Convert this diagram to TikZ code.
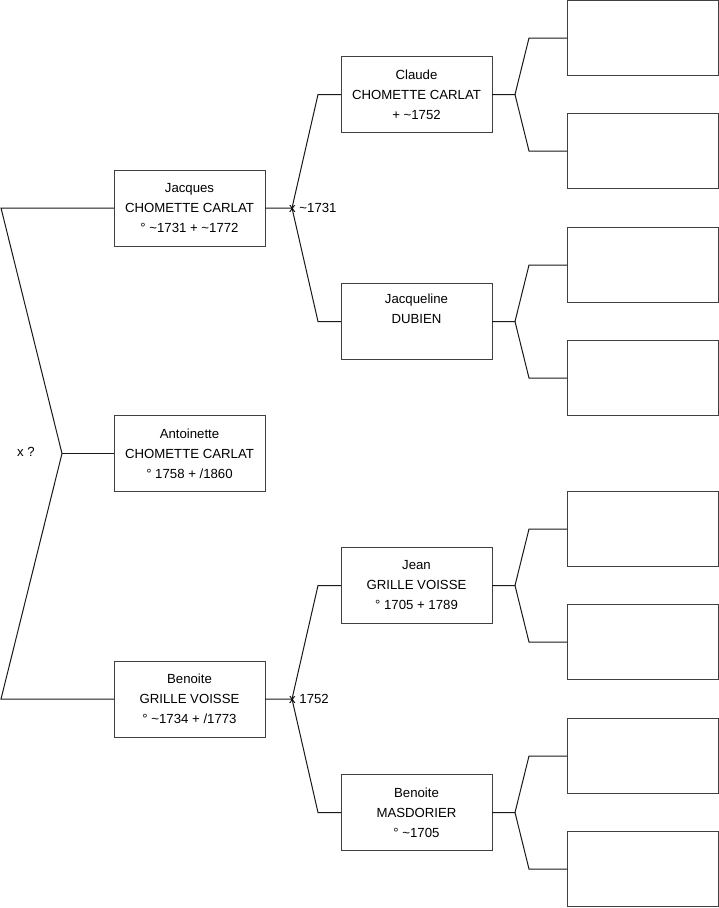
\documentclass[tikz,border=0pt]{standalone}
\usepackage{fontspec}
\setmainfont{Liberation Sans}
\usetikzlibrary{positioning, calc}

\begin{document}
\begin{tikzpicture}[
    node distance=37.5pt and 76pt,
    person/.style={draw=black!75, line width=1pt, outer sep=0pt, align=center, minimum width=151pt, minimum height=76pt, inner sep=0pt, font=\fontsize{13.2}{20}\selectfont},
    blank/.style={person, minimum height=75pt},
    link/.style={line width=1pt, black!90},
    wedding/.style={font=\fontsize{13.2}{15}\selectfont, inner sep=0pt}
]
    \useasboundingbox (0,0) rectangle (719pt,-908pt);

    \node[person] (jacques) at (189.5pt,-208pt) {Jacques\\CHOMETTE CARLAT\\° \textasciitilde1731 + \textasciitilde1772};
    \node[person, below=169.5pt of jacques] (antoinette) {Antoinette\\CHOMETTE CARLAT\\° 1758 + /1860};
    \node[person, below=169.5pt of antoinette] (benoite) {Benoite\\GRILLE VOISSE\\° \textasciitilde1734 + /1773};

    \node[person, above right=of jacques] (claude) {Claude\\CHOMETTE CARLAT\\+ \textasciitilde1752};
    \node[person, below right=of jacques] (jacqueline) {Jacqueline\\DUBIEN\\\strut};
    \node[person, above right=of benoite] (jean) {Jean\\GRILLE VOISSE\\° 1705 + 1789};
    \node[person, below right=of benoite] (masdorier) {Benoite\\MASDORIER\\° \textasciitilde1705};

    \foreach \kid in {claude, jacqueline, jean, masdorier} {
        \node[blank, right=75pt of \kid, yshift=56.5pt] (\kid-f) {};
        \node[blank, right=75pt of \kid, yshift=-56.5pt] (\kid-m) {};
        \coordinate[right=23pt of \kid.east] (\kid-x);
        \draw[link] (\kid.east) -- (\kid-x) -- ([xshift=-38pt]\kid-f.west) -- (\kid-f.west);
        \draw[link] (\kid-x) -- ([xshift=-38pt]\kid-m.west) -- (\kid-m.west);
    }

    \coordinate[right=27pt of jacques.east] (jacques-x);
    \draw[link] (jacques.east) -- (jacques-x) -- ([xshift=-23pt]claude.west) -- (claude.west);
    \draw[link] (jacques-x) -- ([xshift=-23pt]jacqueline.west) -- (jacqueline.west);
    \node[wedding, anchor=west] (jacques-w) at ([xshift=-3pt]jacques-x) {x \textasciitilde1731};

    \coordinate[right=27pt of benoite.east] (benoite-x);
    \draw[link] (benoite.east) -- (benoite-x) -- ([xshift=-23pt]jean.west) -- (jean.west);
    \draw[link] (benoite-x) -- ([xshift=-23pt]masdorier.west) -- (masdorier.west);
    \node[wedding, anchor=west] (benoite-w) at ([xshift=-3pt]benoite-x) {x 1752};

    \coordinate[left=52pt of antoinette.west] (root-x);
    \draw[link] (jacques.west) -- ([xshift=-113pt]jacques.west) -- (root-x) -- ([xshift=-113pt]benoite.west) -- (benoite.west);
    \draw[link] (root-x) -- (antoinette.west);
    \node[wedding] (root-w) at ([xshift=-36pt, yshift=2pt]root-x) {x ?};
\end{tikzpicture}
\end{document}
